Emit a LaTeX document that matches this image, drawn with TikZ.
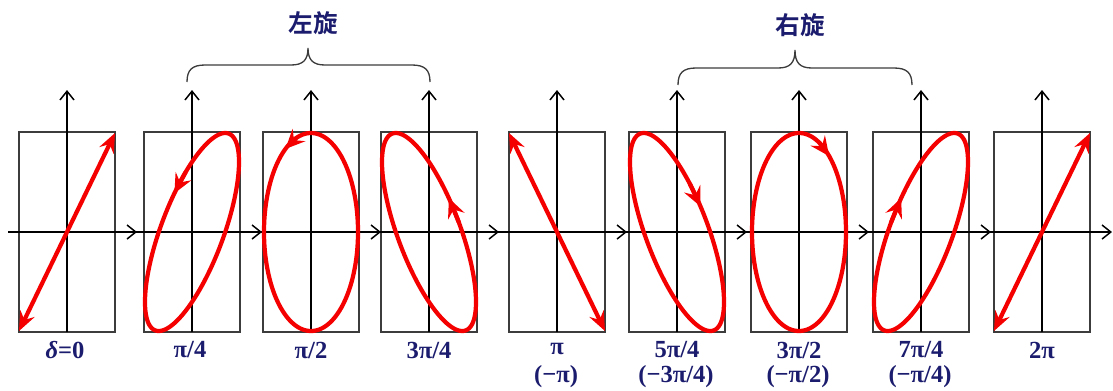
\documentclass[tikz,border=0pt]{standalone}
\usepackage{fontspec}
\setmainfont{Liberation Serif}
\newfontfamily\cjk{Noto Sans CJK SC}[BoldFont={Noto Sans CJK SC Bold}]
\usetikzlibrary{arrows.meta}
\definecolor{navy}{RGB}{28,28,110}
\definecolor{pred}{RGB}{245,0,0}
\definecolor{boxgray}{RGB}{60,60,60}
\tikzset{
  panelbox/.style={draw=boxgray, line width=0.6pt},
  axisline/.style={draw=black, line width=0.85pt, -{Straight Barb[length=5pt,width=8pt]}},
  redline/.style={draw=pred, line width=2.4pt, line join=round, line cap=round},
  redtip/.style={-{Stealth[length=11pt,width=10pt,inset=4pt]}},
  redboth/.style={{Stealth[length=11pt,width=9pt,inset=4pt]}-{Stealth[length=11pt,width=9pt,inset=4pt]}},
  lbl/.style={text=navy, font=\fontsize{14}{16}\selectfont\bfseries, align=center, inner sep=0pt},
  toplbl/.style={text=navy, font=\fontsize{14}{16}\selectfont\cjk\bfseries, inner sep=0pt},
  bracestyle/.style={draw=boxgray, line width=0.75pt},
}
\begin{document}
\begin{tikzpicture}[x=0.02cm, y=-0.02cm]
\useasboundingbox (0,0) rectangle (1113,390);
% panels: boxes and axes
\foreach \cx [count=\i] in {67,192,311,429,557,677,799,921,1042} {
  \draw[panelbox] (\cx-48,132) rectangle (\cx+48,332);
  \draw[axisline] (\cx-59,232) -- (\cx+70,232);
  \draw[axisline] (\cx,332) -- (\cx,90);
}
% linear polarisations
\foreach \cx in {67,1042} {
  \draw[redline, redboth] (\cx-48,331) -- (\cx+48,133);
}
\draw[redline, redboth] (557-48,133) -- (557+48,331);
% elliptical polarisations
\foreach \cx/\d/\t in {192/45/112, 311/90/123, 429/135/65, 677/225/300, 799/270/310, 921/315/245} {
  \draw[redline] plot[domain=0:360, samples=181] ({\cx+47*cos(\x)},{232-99*cos(\x-\d)});
  \draw[redline, redtip] ({\cx+47*cos(\t-14)},{232-99*cos(\t-14-\d)}) -- ({\cx+47*cos(\t)},{232-99*cos(\t-\d)});
}
% labels
\node[lbl] (l1) at (65,350) {\textit{δ}=0};
\node[lbl] (l2) at (190,350) {π/4};
\node[lbl] (l3) at (311,350) {π/2};
\node[lbl] (l4) at (429,350) {3π/4};
\node[lbl] (l5) at (557,349) {π};
\node[lbl] (l5b) at (556,377) {(−π)};
\node[lbl] (l6) at (677,350) {5π/4};
\node[lbl] (l6b) at (676,377) {(−3π/4)};
\node[lbl] (l7) at (799,350) {3π/2};
\node[lbl] (l7b) at (798,377) {(−π/2)};
\node[lbl] (l8) at (921,350) {7π/4};
\node[lbl] (l8b) at (920,377) {(−π/4)};
\node[lbl] (l9) at (1042,350) {2π};
% braces
\draw[bracestyle] (187,82) .. controls (187,70) and (192,65) .. (205,65) -- (291,65)
  .. controls (303,65) and (308,60) .. (308,48) .. controls (308,60) and (313,65) .. (325,65)
  -- (412,65) .. controls (425,65) and (430,70) .. (430,82);
\draw[bracestyle] (678,85) .. controls (678,73) and (683,68) .. (696,68) -- (778,68)
  .. controls (790,68) and (795,63) .. (795,50) .. controls (795,63) and (800,68) .. (812,68)
  -- (894,68) .. controls (907,68) and (912,73) .. (912,85);
\node[toplbl] (left) at (313,23) {左旋};
\node[toplbl] (right) at (800,25) {右旋};
\end{tikzpicture}
\end{document}
